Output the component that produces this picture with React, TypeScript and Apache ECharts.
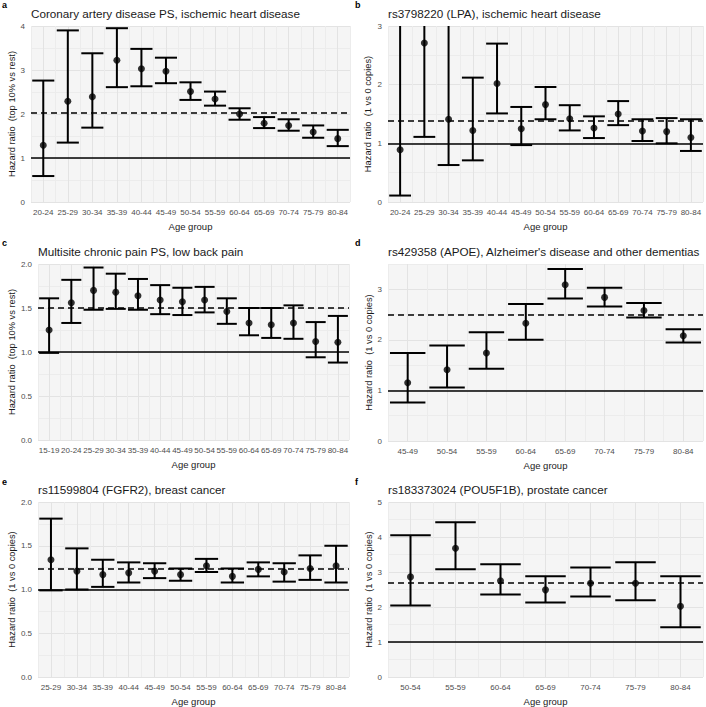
import React, { useEffect, useRef } from "react";
import * as echarts from "echarts";

// ---------- data ----------
const AGE_A = ["20-24", "25-29", "30-34", "35-39", "40-44", "45-49", "50-54", "55-59", "60-64", "65-69", "70-74", "75-79", "80-84"];
const HR_A = [1.29, 2.29, 2.39, 3.22, 3.03, 2.97, 2.51, 2.34, 2.0, 1.79, 1.74, 1.59, 1.44];
const LO_A = [0.59, 1.35, 1.69, 2.61, 2.63, 2.7, 2.32, 2.19, 1.87, 1.68, 1.62, 1.46, 1.27];
const HI_A = [2.76, 3.9, 3.38, 3.95, 3.48, 3.28, 2.72, 2.51, 2.13, 1.93, 1.88, 1.74, 1.64];
const REF_A = 2.02;

const AGE_B = ["20-24", "25-29", "30-34", "35-39", "40-44", "45-49", "50-54", "55-59", "60-64", "65-69", "70-74", "75-79", "80-84"];
const HR_B = [0.89, 2.71, 1.41, 1.22, 2.02, 1.25, 1.66, 1.42, 1.26, 1.5, 1.21, 1.2, 1.1];
const LO_B = [0.11, 1.11, 0.63, 0.71, 1.51, 0.97, 1.41, 1.22, 1.09, 1.31, 1.04, 1.0, 0.87];
const HI_B = [6.5, 6.5, 3.4, 2.12, 2.7, 1.62, 1.96, 1.65, 1.46, 1.72, 1.41, 1.43, 1.41];
const REF_B = 1.39;

const AGE_C = ["15-19", "20-24", "25-29", "30-34", "35-39", "40-44", "45-49", "50-54", "55-59", "60-64", "65-69", "70-74", "75-79", "80-84"];
const HR_C = [1.25, 1.56, 1.7, 1.68, 1.64, 1.59, 1.57, 1.59, 1.46, 1.33, 1.31, 1.33, 1.12, 1.11];
const LO_C = [0.99, 1.33, 1.48, 1.49, 1.48, 1.43, 1.42, 1.45, 1.32, 1.19, 1.16, 1.15, 0.94, 0.88];
const HI_C = [1.61, 1.82, 1.96, 1.89, 1.83, 1.76, 1.73, 1.74, 1.61, 1.5, 1.5, 1.53, 1.34, 1.41];
const REF_C = 1.5;

const AGE_D = ["45-49", "50-54", "55-59", "60-64", "65-69", "70-74", "75-79", "80-84"];
const HR_D = [1.15, 1.41, 1.74, 2.33, 3.09, 2.84, 2.58, 2.08];
const LO_D = [0.76, 1.06, 1.43, 2.0, 2.82, 2.66, 2.44, 1.95];
const HI_D = [1.74, 1.89, 2.15, 2.71, 3.4, 3.03, 2.73, 2.21];
const REF_D = 2.49;

const AGE_E = ["25-29", "30-34", "35-39", "40-44", "45-49", "50-54", "55-59", "60-64", "65-69", "70-74", "75-79", "80-84"];
const HR_E = [1.34, 1.21, 1.17, 1.19, 1.21, 1.17, 1.27, 1.15, 1.23, 1.2, 1.24, 1.27];
const LO_E = [0.99, 1.0, 1.03, 1.08, 1.13, 1.1, 1.2, 1.08, 1.15, 1.09, 1.11, 1.08];
const HI_E = [1.81, 1.47, 1.34, 1.31, 1.3, 1.24, 1.35, 1.24, 1.31, 1.3, 1.39, 1.5];
const REF_E = 1.24;

const AGE_F = ["50-54", "55-59", "60-64", "65-69", "70-74", "75-79", "80-84"];
const HR_F = [2.86, 3.68, 2.75, 2.49, 2.68, 2.68, 2.02];
const LO_F = [2.04, 3.08, 2.36, 2.13, 2.3, 2.19, 1.42];
const HI_F = [4.05, 4.42, 3.22, 2.88, 3.13, 3.28, 2.88];
const REF_F = 2.69;

const TITLES = [
  "Coronary artery disease PS, ischemic heart disease",
  "rs3798220 (LPA), ischemic heart disease",
  "Multisite chronic pain PS, low back pain",
  "rs429358 (APOE), Alzheimer's disease and other dementias",
  "rs11599804 (FGFR2), breast cancer",
  "rs183373024 (POU5F1B), prostate cancer",
];
const LETTERS = ["a", "b", "c", "d", "e", "f"];
const YNAMES = [
  "Hazard ratio  (top 10% vs rest)",
  "Hazard ratio  (1 vs 0 copies)",
  "Hazard ratio  (top 10% vs rest)",
  "Hazard ratio  (1 vs 0 copies)",
  "Hazard ratio  (1 vs 0 copies)",
  "Hazard ratio  (1 vs 0 copies)",
];
const YMAX = [4, 3, 2, 3.5, 2, 5];
const YSTEP = [0.5, 0.5, 0.25, 0.5, 0.25, 0.5];
const YLABEL_STEP = [1, 1, 0.5, 1, 0.5, 1];

const PANELS = [
  { cats: AGE_A, hr: HR_A, lo: LO_A, hi: HI_A, ref: REF_A },
  { cats: AGE_B, hr: HR_B, lo: LO_B, hi: HI_B, ref: REF_B },
  { cats: AGE_C, hr: HR_C, lo: LO_C, hi: HI_C, ref: REF_C },
  { cats: AGE_D, hr: HR_D, lo: LO_D, hi: HI_D, ref: REF_D },
  { cats: AGE_E, hr: HR_E, lo: LO_E, hi: HI_E, ref: REF_E },
  { cats: AGE_F, hr: HR_F, lo: LO_F, hi: HI_F, ref: REF_F },
];

// ---------- layout ----------
const GRIDS = [
  { left: 31, top: 26, width: 319, height: 176 },
  { left: 388, top: 26, width: 317, height: 176 },
  { left: 38, top: 264, width: 311, height: 176 },
  { left: 388, top: 264, width: 317, height: 177 },
  { left: 38, top: 502, width: 311, height: 176 },
  { left: 388, top: 502, width: 317, height: 177 },
];
const NAME_GAP_Y = [13, 16, 20, 15, 20, 14];
const FONT = "'Liberation Sans', Arial, Helvetica, sans-serif";

export default function App() {
  const ref = useRef<HTMLDivElement>(null);
  useEffect(() => {
    if (!ref.current) return;
    const chart = echarts.init(ref.current, null, { renderer: "svg" });

    const grid: any[] = [];
    const xAxis: any[] = [];
    const yAxis: any[] = [];
    const series: any[] = [];
    const title: any[] = [];

    PANELS.forEach((p, i) => {
      const g = GRIDS[i];
      grid.push({
        left: g.left,
        top: g.top,
        width: g.width,
        height: g.height,
        show: true,
        backgroundColor: "#f5f5f5",
        borderWidth: 0,
      });
      const n = p.cats.length;
      xAxis.push({
        type: "value",
        gridIndex: i,
        min: -0.5,
        max: n - 0.5,
        interval: 0.5,
        name: "Age group",
        nameLocation: "middle",
        nameGap: 19,
        nameTextStyle: { fontSize: 9.5, color: "#1a1a1a", fontFamily: FONT },
        axisLine: { show: false },
        axisTick: { show: false },
        axisLabel: {
          margin: 6,
          fontSize: 8,
          color: "#4d4d4d",
          fontFamily: FONT,
          showMinLabel: true,
          showMaxLabel: true,
          formatter: (v: number) => {
            const r = Math.round(v);
            return Math.abs(v - r) < 1e-6 && r >= 0 && r < n ? p.cats[r] : "";
          },
        },
        splitLine: { show: true, lineStyle: { color: ["#ececec", "#e3e3e3"], width: 1 } },
      });
      const step = YLABEL_STEP[i];
      yAxis.push({
        type: "value",
        gridIndex: i,
        min: 0,
        max: YMAX[i],
        interval: YSTEP[i],
        name: YNAMES[i],
        nameLocation: "middle",
        nameGap: NAME_GAP_Y[i],
        nameTextStyle: { fontSize: 9.3, color: "#1a1a1a", fontFamily: FONT },
        axisLine: { show: false },
        axisTick: { show: false },
        axisLabel: {
          margin: 6,
          fontSize: 8,
          color: "#4d4d4d",
          fontFamily: FONT,
          formatter: (v: number) => {
            const k = v / step;
            if (Math.abs(k - Math.round(k)) > 1e-6) return "";
            return step < 1 ? v.toFixed(1) : String(Math.round(v));
          },
        },
        splitLine: { show: true, lineStyle: { color: ["#e3e3e3", "#ececec"], width: 1 } },
      });

      const barData = p.cats.map((_, k) => [k, p.lo[k], p.hi[k]]);
      series.push({
        type: "custom",
        xAxisIndex: i,
        yAxisIndex: i,
        data: barData,
        z: 3,
        silent: true,
        renderItem: (params: any, api: any) => {
          const x = api.value(0);
          const lo = api.value(1);
          const hi = api.value(2);
          const pLo = api.coord([x, lo]);
          const pHi = api.coord([x, hi]);
          const bw = api.size([1, 0])[0] * 0.9;
          const cs = params.coordSys;
          const top = cs.y;
          const bottom = cs.y + cs.height;
          const yHi = Math.max(pHi[1], top);
          const yLo = Math.min(pLo[1], bottom);
          const style = { stroke: "#000", lineWidth: 2, fill: "none" };
          const children: any[] = [
            { type: "line", shape: { x1: pLo[0], y1: yLo, x2: pLo[0], y2: yHi }, style },
          ];
          if (pHi[1] >= top - 0.5) {
            children.push({ type: "line", shape: { x1: pHi[0] - bw / 2, y1: pHi[1], x2: pHi[0] + bw / 2, y2: pHi[1] }, style });
          }
          if (pLo[1] <= bottom + 0.5) {
            children.push({ type: "line", shape: { x1: pLo[0] - bw / 2, y1: pLo[1], x2: pLo[0] + bw / 2, y2: pLo[1] }, style });
          }
          return { type: "group", children };
        },
      });
      series.push({
        type: "scatter",
        xAxisIndex: i,
        yAxisIndex: i,
        data: p.hr.map((v, k) => [k, v]),
        symbolSize: 7,
        itemStyle: { color: "#000" },
        z: 4,
        silent: true,
        markLine: {
          silent: true,
          symbol: "none",
          label: { show: false },
          z: 2,
          data: [
            { yAxis: 1, lineStyle: { color: "#000", width: 1.6, type: "solid" } },
            { yAxis: p.ref, lineStyle: { color: "#000", width: 1.6, type: [6, 4] } },
          ],
        },
      });

      title.push({
        text: TITLES[i],
        left: g.left,
        top: g.top - 19,
        padding: 0,
        textStyle: { fontSize: 11.7, fontWeight: "normal", color: "#1a1a1a", fontFamily: FONT },
      });
      title.push({
        text: LETTERS[i],
        left: i % 2 === 0 ? 2 : 355,
        top: i < 2 ? 0 : i < 4 ? 238 : 477,
        padding: 0,
        textStyle: { fontSize: 9, fontWeight: "bold", color: "#000", fontFamily: FONT },
      });
    });

    chart.setOption({
      animation: false,
      backgroundColor: "#ffffff",
      title,
      grid,
      xAxis,
      yAxis,
      series,
    });
    return () => chart.dispose();
  }, []);

  return (
    <div
      ref={ref}
      style={{ position: "fixed", left: 0, top: 0, width: 706, height: 707, background: "#fff" }}
    />
  );
}
